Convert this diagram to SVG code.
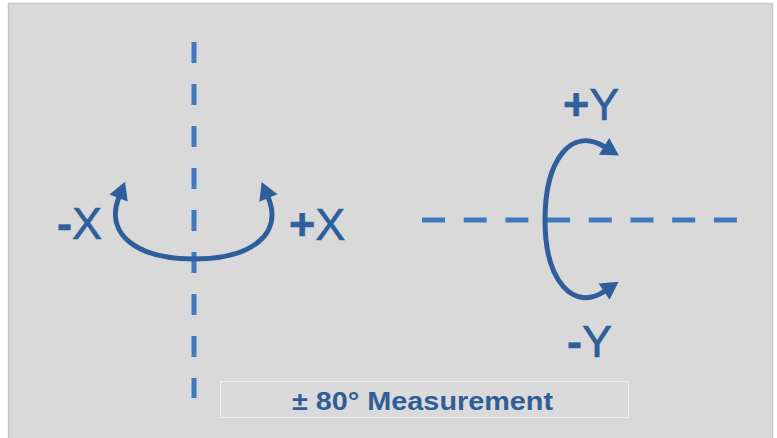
<svg xmlns="http://www.w3.org/2000/svg" width="777" height="438" viewBox="0 0 777 438">
<defs>
<style>
.axis{fill:none;stroke:#3e7abd;stroke-width:5}
.rot{fill:none;stroke:#2e5e9b;stroke-width:5}
.lbl{font-family:"Liberation Sans",Arial,sans-serif;font-size:45px;fill:#2e5e9b;stroke:#2e5e9b;stroke-width:0.6}
.sg{font-weight:bold}
.cap{font-family:"Liberation Sans",Arial,sans-serif;font-size:26px;font-weight:bold;fill:#2f5d98}
</style>
<marker id="ah" markerUnits="userSpaceOnUse" markerWidth="24" markerHeight="24" viewBox="-2 -11 22 22" refX="1" refY="0" orient="auto-start-reverse">
<path d="M0,-9 L16,0 L0,9 z" fill="#2e5e9b"/>
</marker>
</defs>
<rect x="0" y="0" width="777" height="438" fill="#ffffff"/>
<rect x="8.5" y="3.5" width="764" height="450" fill="#d9d9d9" stroke="#c6c6c6" stroke-width="1.5"/>
<g id="connectors">
<line class="axis" x1="194" y1="42" x2="194" y2="398" stroke-dasharray="21 21"/>
<line class="axis" x1="422" y1="220" x2="737" y2="220" stroke-dasharray="23 18.7"/>
<path id="rotX" class="rot" d="M119,197 C104,235 138,259 194,259 C250,259 284,235 268,197" marker-start="url(#ah)" marker-end="url(#ah)"/>
<path id="rotY" class="rot" d="M605,147 C571,126 545,160 545,220 C545,282 574,312 605,291" marker-start="url(#ah)" marker-end="url(#ah)"/>
</g>
<g id="label-minus-x"><text class="lbl" x="57" y="239"><tspan class="sg">-</tspan>X</text></g>
<g id="label-plus-x"><text class="lbl" x="289" y="240"><tspan class="sg">+</tspan>X</text></g>
<g id="label-plus-y"><text class="lbl" x="563" y="120"><tspan class="sg">+</tspan>Y</text></g>
<g id="label-minus-y"><text class="lbl" x="567" y="357"><tspan class="sg">-</tspan>Y</text></g>
<g id="caption">
<rect x="220.5" y="381.5" width="408" height="36" fill="#dadada" stroke="#eeeeee" stroke-width="1"/>
<text class="cap" x="292" y="410" textLength="261" lengthAdjust="spacingAndGlyphs">± 80° Measurement</text>
</g>
</svg>
